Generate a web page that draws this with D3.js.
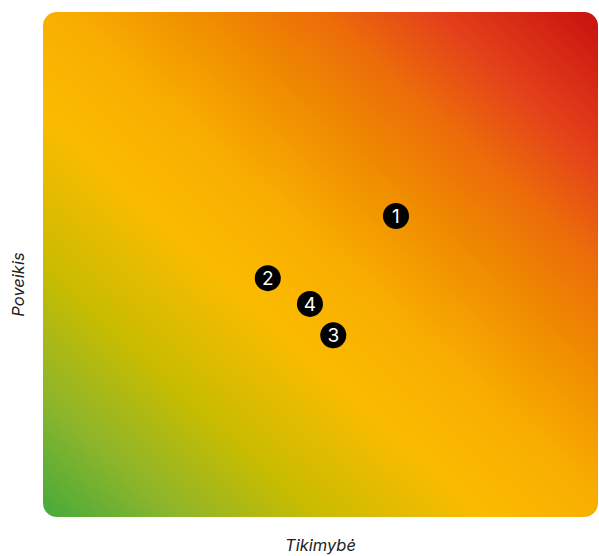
<!DOCTYPE html>
<html><head><meta charset="utf-8">
<script src="https://cdn.jsdelivr.net/npm/d3@7"></script>
<style>body{margin:0;background:#fff}svg{display:block}</style>
</head><body>
<script>
const risks = ["1","2","3","4"];
const likelihood = [6.36, 4.05, 5.23, 4.81];
const impact = [5.96, 4.73, 3.60, 4.22];
const xLabel = "Tikimybė";
const yLabel = "Poveikis";
const gradOffsets = [0, 0.12, 0.25, 0.4, 0.52, 0.65, 0.75, 0.85, 1];
const gradColors = ["#45aa3c", "#8db52b", "#c9bc00", "#fbbb00", "#f8ad00", "#ef8a00", "#ec6c0a", "#e4421a", "#c8110f"];

const W = 599, H = 556;
const m = {left: 43, right: 1, top: 12, bottom: 39};
const svg = d3.select("body").append("svg").attr("width", W).attr("height", H);
const x = d3.scaleLinear().domain([0, 10]).range([m.left, W - m.right]);
const y = d3.scaleLinear().domain([0, 10]).range([H - m.bottom, m.top]);

const grad = svg.append("defs").append("linearGradient").attr("id", "g")
  .attr("x1", 0).attr("y1", 1).attr("x2", 1).attr("y2", 0);
grad.selectAll("stop").data(gradOffsets).join("stop")
  .attr("offset", d => d).attr("stop-color", (d, i) => gradColors[i]);

svg.append("rect").attr("x", x(0)).attr("y", y(10))
  .attr("width", x(10) - x(0)).attr("height", y(0) - y(10))
  .attr("rx", 14).attr("fill", "url(#g)");

const pts = svg.append("g").selectAll("g").data(risks).join("g")
  .attr("transform", (d, i) => `translate(${x(likelihood[i])},${y(impact[i])})`);
pts.append("circle").attr("r", 13).attr("fill", "#000");
pts.append("text").text(d => d).attr("text-anchor", "middle").attr("dy", "0.36em")
  .attr("fill", "#fff").attr("font-family", "Inter, 'Open Sans', sans-serif").attr("font-size", 19);

svg.append("text").text(xLabel).attr("x", (x(0) + x(10)) / 2).attr("y", 551)
  .attr("text-anchor", "middle").attr("font-style", "italic")
  .attr("font-family", "Inter, 'Open Sans', sans-serif").attr("font-size", 16.5).attr("fill", "#222");
svg.append("text").text(yLabel).attr("transform", `translate(24,${(y(0) + y(10)) / 2 + 20}) rotate(-90)`)
  .attr("text-anchor", "middle").attr("font-style", "italic")
  .attr("font-family", "Inter, 'Open Sans', sans-serif").attr("font-size", 16.5).attr("fill", "#222");
</script>
</body></html>
